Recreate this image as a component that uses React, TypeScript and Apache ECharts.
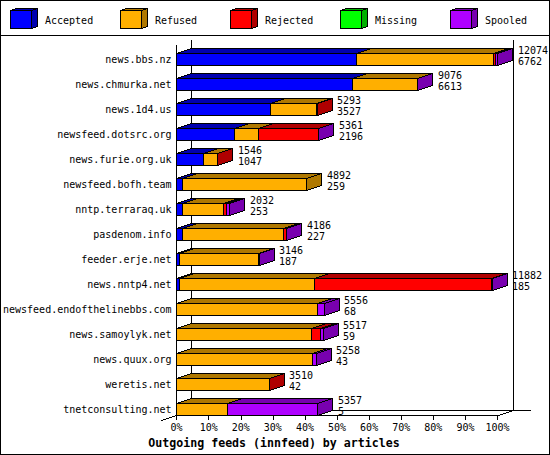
import React, { useEffect, useRef } from "react";
import * as echarts from "echarts";

const categories = [
  "news.bbs.nz", "news.chmurka.net", "news.1d4.us", "newsfeed.dotsrc.org", "news.furie.org.uk",
  "newsfeed.bofh.team", "nntp.terraraq.uk", "pasdenom.info", "feeder.erje.net", "news.nntp4.net",
  "newsfeed.endofthelinebbs.com", "news.samoylyk.net", "news.quux.org", "weretis.net", "tnetconsulting.net",
];
const accepted = [56.0, 54.7, 29.2, 17.9, 8.3, 1.7, 1.7, 1.7, 1.0, 1.0, 0.1, 0.1, 0.1, 0.1, 0];
const refused = [42.9, 20.3, 14.5, 7.7, 4.4, 38.8, 13.0, 31.7, 24.5, 42.1, 43.7, 41.9, 42.4, 28.7, 16.0];
const rejected = [0.5, 0, 0.1, 18.5, 0.1, 0, 0.9, 0.7, 0, 55.0, 0, 2.8, 0, 0.1, 0];
const missing = [0, 0, 0, 0, 0, 0, 0, 0, 0, 0, 0, 0, 0, 0, 0];
const spooled = [0.6, 0.2, 0, 0.2, 0, 0, 1.0, 0.2, 0.2, 0.2, 2.2, 0.9, 1.1, 0, 28.0];
const totals = [12074, 9076, 5293, 5361, 1546, 4892, 2032, 4186, 3146, 11882, 5556, 5517, 5258, 3510, 5357];
const acceptedCounts = [6762, 6613, 3527, 2196, 1047, 259, 253, 227, 187, 185, 68, 59, 43, 42, 5];

const seriesNames = ["Accepted", "Refused", "Rejected", "Missing", "Spooled"];
const seriesValues = [accepted, refused, rejected, missing, spooled];
const frontColors = ["#0000FF", "#FFAF00", "#FF0000", "#00FF00", "#AF00FF"];
const darkColors = ["#0000AF", "#AF7800", "#AF0000", "#00AF00", "#7800AF"];
const xTicks = { min: 0, max: 100, interval: 10 };
const titleText = "Outgoing feeds (innfeed) by articles";

const MONO = '"DejaVu Sans Mono", monospace';
const DX = 15;
const DY = 5;
const HALF = 6;
const px = (v: number) => Math.round(v - 0.5) + 0.5;

function buildSegments(seriesIdx: number) {
  return categories.map((_, row) => {
    let start = 0;
    for (let s = 0; s < seriesIdx; s++) start += seriesValues[s][row];
    const v = seriesValues[seriesIdx][row];
    let last = v > 0;
    for (let s = seriesIdx + 1; s < seriesValues.length; s++) if (seriesValues[s][row] > 0) last = false;
    return [start, start + v, row, last ? 1 : 0];
  });
}

function poly(points: number[][], fill: string) {
  return {
    type: "polygon",
    shape: { points },
    style: { fill, stroke: "#000", lineWidth: 1 },
  };
}

function makeSeries(seriesIdx: number) {
  return {
    type: "custom",
    name: seriesNames[seriesIdx],
    coordinateSystem: "cartesian2d",
    clip: false,
    silent: true,
    data: buildSegments(seriesIdx),
    encode: { x: [0, 1], y: 2 },
    renderItem: (_p: any, api: any) => {
      const a = api.coord([api.value(0), api.value(2)]);
      const b = api.coord([api.value(1), api.value(2)]);
      if (api.value(1) <= api.value(0)) return { type: "group", children: [] };
      const x0 = px(a[0]);
      const x1 = px(b[0]);
      const top = px(a[1] - HALF);
      const bot = px(a[1] + HALF);
      const children: any[] = [
        poly([[x0, top], [x0 + DX, top - DY], [x1 + DX, top - DY], [x1, top]], darkColors[seriesIdx]),
      ];
      if (api.value(3)) {
        children.push(poly([[x1, top], [x1 + DX, top - DY], [x1 + DX, bot - DY], [x1, bot]], darkColors[seriesIdx]));
      }
      children.push(poly([[x0, top], [x1, top], [x1, bot], [x0, bot]], frontColors[seriesIdx]));
      return { type: "group", children };
    },
  };
}

const labelData = categories.map((_, row) => {
  const end = seriesValues.reduce((sum, values) => sum + values[row], 0);
  return [end, row, totals[row], acceptedCounts[row]];
});

const labelSeries = {
  type: "custom",
  name: "Counts",
  coordinateSystem: "cartesian2d",
  clip: false,
  silent: true,
  data: labelData,
  encode: { x: 0, y: 1 },
  renderItem: (_p: any, api: any) => {
    const c = api.coord([api.value(0), api.value(1)]);
    const x = Math.round(c[0]) + DX + 5;
    const mk = (text: string, y: number) => ({
      type: "text",
      style: { text, x, y, fill: "#000", font: `10px ${MONO}`, textAlign: "left", textVerticalAlign: "middle" },
    });
    return {
      type: "group",
      children: [mk(String(api.value(2)), c[1] - 9), mk(String(api.value(3)), c[1] + 2)],
    };
  },
};

function line(x1: number, y1: number, x2: number, y2: number) {
  return {
    type: "line",
    silent: true,
    shape: { x1, y1, x2, y2 },
    style: { stroke: "#000", lineWidth: 1 },
  };
}

function legendGraphics() {
  const out: any[] = [];
  seriesNames.forEach((name, i) => {
    const x = 10 + i * 110;
    const t = 10.5;
    const r = x + 21;
    const b = 28.5;
    const dx = 6;
    const dy = 2;
    const xa = x + 0.5;
    const xb = r + 0.5;
    const mk = (points: number[][], fill: string) => ({
      type: "polygon",
      silent: true,
      shape: { points },
      style: { fill, stroke: "#000", lineWidth: 1 },
    });
    out.push(mk([[xa, t], [xa + dx, t - dy], [xb + dx, t - dy], [xb, t]], darkColors[i]));
    out.push(mk([[xb, t], [xb + dx, t - dy], [xb + dx, b - dy], [xb, b]], darkColors[i]));
    out.push(mk([[xa, t], [xb, t], [xb, b], [xa, b]], frontColors[i]));
    out.push({
      type: "text",
      silent: true,
      style: { text: name, x: x + 35, y: 20, fill: "#000", font: `10px ${MONO}`, textAlign: "left", textVerticalAlign: "middle" },
    });
  });
  return out;
}

export default function App() {
  const ref = useRef<HTMLDivElement>(null);
  useEffect(() => {
    if (!ref.current) return;
    const chart = echarts.init(ref.current, undefined, { renderer: "svg" });
    chart.setOption({
      animation: false,
      backgroundColor: "#fff",
      title: {
        text: titleText,
        left: 274,
        top: 435.5,
        textAlign: "center",
        textStyle: { fontFamily: MONO, fontSize: 11.6, fontWeight: "bold", color: "#000", lineHeight: 14 },
        padding: 0,
      },
      grid: { left: 176.5, top: 46.5, width: 321, height: 375, containLabel: false },
      xAxis: {
        type: "value",
        min: xTicks.min,
        max: xTicks.max,
        interval: xTicks.interval,
        offset: -6.5,
        splitLine: { show: false },
        axisLine: { show: true, lineStyle: { color: "#000", width: 1 } },
        axisTick: { show: true, length: 5, lineStyle: { color: "#000", width: 1 } },
        axisLabel: { formatter: "{value}%", color: "#000", fontFamily: MONO, fontSize: 10, margin: 7 },
      },
      yAxis: {
        type: "category",
        inverse: true,
        data: categories,
        axisLine: { show: false },
        axisTick: { show: false },
        axisLabel: { color: "#000", fontFamily: MONO, fontSize: 10, margin: 5, interval: 0 },
      },
      graphic: {
        elements: [
          {
            type: "rect",
            silent: true,
            shape: { x: 0.5, y: 0.5, width: 549, height: 454 },
            style: { fill: "transparent", stroke: "#000", lineWidth: 1 },
          },
          line(0, 35.5, 550, 35.5),
          line(176.5, 45, 176.5, 415.5),
          line(191.5, 40, 191.5, 410.5),
          line(513.5, 40, 513.5, 410.5),
          line(191.5, 410.5, 531, 410.5),
          line(161.5, 420.5, 191.5, 410.5),
          line(498.5, 415.5, 513.5, 410.5),
          ...legendGraphics(),
        ],
      },
      series: [...seriesNames.map((_, i) => makeSeries(i)), labelSeries],
    });
    return () => chart.dispose();
  }, []);
  return (
    <>
      <style>{`body{margin:0;background:#fff} svg path, svg line, svg rect, svg polygon{shape-rendering:crispEdges}`}</style>
      <div ref={ref} style={{ position: "absolute", left: 0, top: 0, width: 550, height: 455 }} />
    </>
  );
}
